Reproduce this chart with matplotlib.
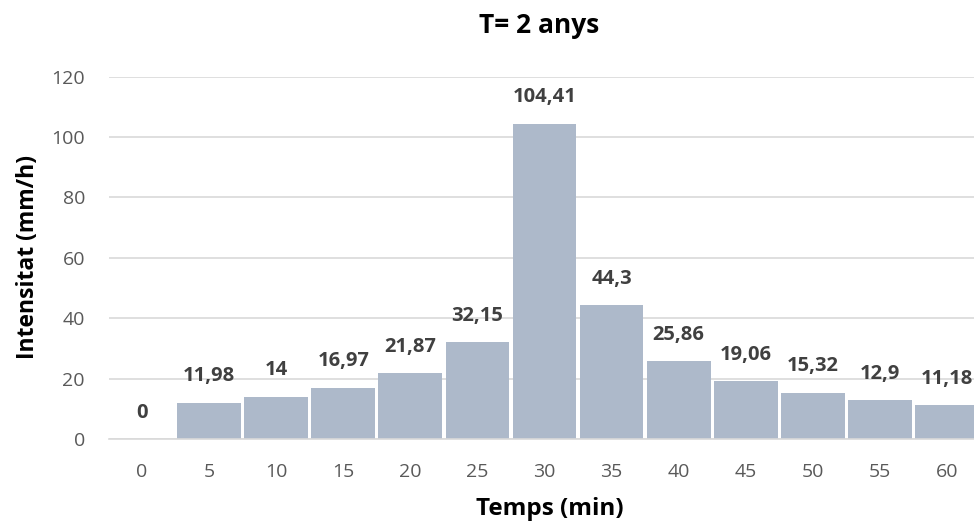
import matplotlib
matplotlib.use("Agg")
import matplotlib.pyplot as plt

categories = ["0", "5", "10", "15", "20", "25", "30", "35", "40", "45", "50", "55", "60"]
values = [0, 11.98, 14, 16.97, 21.87, 32.15, 104.41, 44.3, 25.86, 19.06, 15.32, 12.9, 11.18]
labels = ["0", "11,98", "14", "16,97", "21,87", "32,15", "104,41", "44,3", "25,86", "19,06", "15,32", "12,9", "11,18"]
yticks = [0, 20, 40, 60, 80, 100, 120]

plt.rcParams['font.family'] = ['Open Sans', 'DejaVu Sans']

W, H = 974, 524
fig = plt.figure(figsize=(W/100, H/100), dpi=100)
left, right = 108.5, 980.5
top, bottom = 76.7, 439
ax = fig.add_axes([left/W, (H-bottom)/H, (right-left)/W, (bottom-top)/H])

x = list(range(len(categories)))
ax.bar(x, values, width=0.95, color="#ADB9CA", zorder=2)
ax.set_xlim(-0.5, len(categories)-0.5)
ax.set_ylim(0, 120)
ax.set_yticks(yticks)
ax.set_xticks(x)
ax.set_xticklabels(categories)
ax.yaxis.grid(True, color="#D9D9D9", linewidth=1.2, zorder=0)
ax.set_axisbelow(True)
for s in ["top", "right", "left"]:
    ax.spines[s].set_visible(False)
ax.spines["bottom"].set_color("#D9D9D9")
ax.spines["bottom"].set_linewidth(1.2)
ax.tick_params(length=0, labelsize=14, labelcolor="#595959")
ax.tick_params(axis='x', pad=17.5)
ax.tick_params(axis='y', pad=17)

for xi, v, lab in zip(x, values, labels):
    ax.annotate(lab, (xi, v), xytext=(0, 19), textcoords="offset points",
                ha="center", va="center", fontsize=14.5, fontweight="bold", color="#404040")

fig.text(539/W, 1-33/H, "T= 2 anys", ha="center", va="baseline", fontsize=19, fontweight="bold", color="black")
fig.text(550/W, 1-509/H, "Temps (min)", ha="center", va="center", fontsize=17.5, fontweight="bold", color="black")
fig.text(28/W, 1-257/H, "Intensitat (mm/h)", ha="center", va="center", rotation=90, fontsize=16.5, fontweight="bold", color="black")

fig.savefig("out.png", dpi=100)
